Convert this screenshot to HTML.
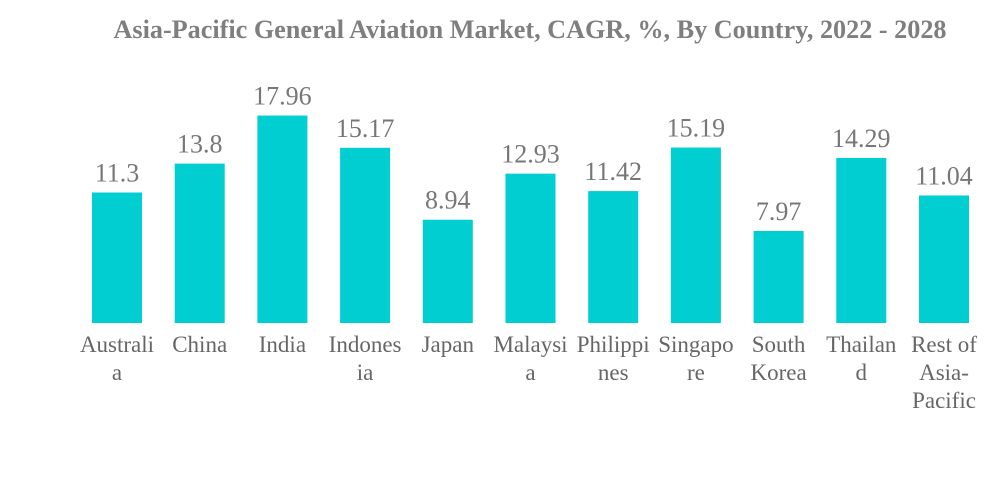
<!DOCTYPE html>
<html><head><meta charset="utf-8"><style>
html,body{margin:0;padding:0;background:#fff;}
svg{display:block;}
</style></head><body>
<svg id="chart" width="1000" height="483" xmlns="http://www.w3.org/2000/svg">
<text x="530" y="38" text-anchor="middle" font-family="'Liberation Serif', serif" font-weight="bold" font-size="26.2" fill="#7f7f7f">Asia-Pacific General Aviation Market, CAGR, %, By Country, 2022 - 2028</text>
<g id="bars"></g>
</svg>
<script>
const categories = [["Australi","a"],["China"],["India"],["Indones","ia"],["Japan"],["Malaysi","a"],["Philippi","nes"],["Singapo","re"],["South","Korea"],["Thailan","d"],["Rest of","Asia-","Pacific"]];
const values = [11.3, 13.8, 17.96, 15.17, 8.94, 12.93, 11.42, 15.19, 7.97, 14.29, 11.04];
const valueLabels = ["11.3","13.8","17.96","15.17","8.94","12.93","11.42","15.19","7.97","14.29","11.04"];

const NS = "http://www.w3.org/2000/svg";
const baseY = 323, pxPerUnit = 11.55, x0 = 117, step = 82.7, barW = 50;
const xPos = i => x0 + i * step;
const yPos = v => baseY - v * pxPerUnit;
const g = document.getElementById('bars');
values.forEach((v, i) => {
  const cx = xPos(i);
  const r = document.createElementNS(NS, 'rect');
  
  
  r.setAttribute('x', cx - barW / 2);
  r.setAttribute('y', yPos(v));
  r.setAttribute('width', barW);
  r.setAttribute('height', baseY - yPos(v));
  r.setAttribute('fill', '#00ced1');
  g.appendChild(r);
  const t = document.createElementNS(NS, 'text');
  
  
  t.setAttribute('x', cx);
  t.setAttribute('y', yPos(v) - 11);
  t.setAttribute('text-anchor', 'middle');
  t.setAttribute('font-family', "'Liberation Serif', serif");
  t.setAttribute('font-size', '26');
  t.setAttribute('fill', '#777');
  t.textContent = valueLabels[i];
  g.appendChild(t);
  categories[i].forEach((line, j) => {
    const c = document.createElementNS(NS, 'text');
    
    
    c.setAttribute('x', cx);
    c.setAttribute('y', 352 + j * 28);
    c.setAttribute('text-anchor', 'middle');
    c.setAttribute('font-family', "'Liberation Serif', serif");
    c.setAttribute('font-size', '23');
    c.setAttribute('fill', '#666');
    c.textContent = line;
    g.appendChild(c);
  });
});
</script>
</body></html>
